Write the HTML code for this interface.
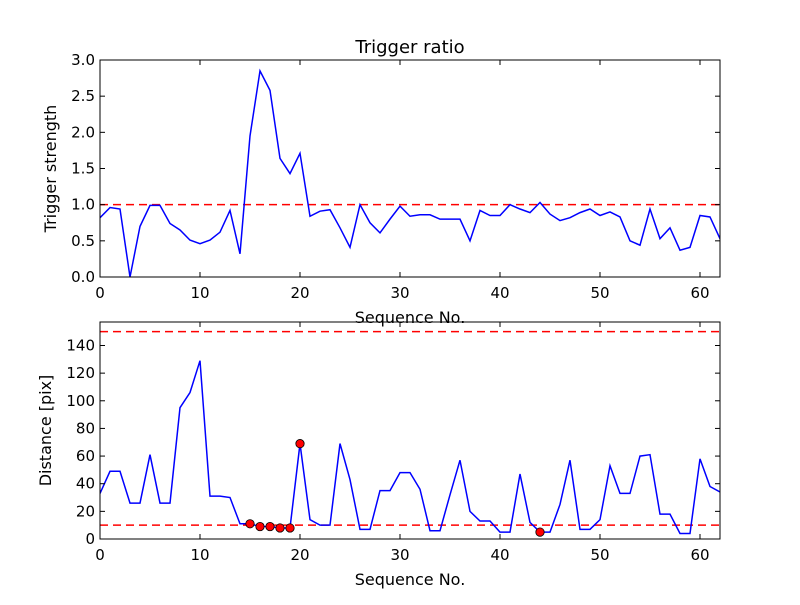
<!DOCTYPE html>
<html><head><meta charset="utf-8"><style>
body{margin:0;background:#fff}
svg{font-family:"DejaVu Sans","Liberation Sans",sans-serif}
</style></head><body>
<svg id="c" width="800" height="600" xmlns="http://www.w3.org/2000/svg">
<rect width="800" height="600" fill="#fff"/>
</svg>
<script>
const xs = Array.from({length:63},(_,i)=>i);
const ratio = [0.82,0.96,0.94,0.0,0.70,0.99,0.99,0.74,0.65,0.51,0.46,0.51,0.62,0.92,0.32,1.95,2.85,2.58,1.64,1.43,1.71,0.84,0.91,0.93,0.68,0.41,1.0,0.75,0.61,0.80,0.98,0.84,0.86,0.86,0.80,0.80,0.80,0.50,0.92,0.85,0.85,1.0,0.94,0.89,1.03,0.87,0.78,0.82,0.89,0.94,0.85,0.90,0.83,0.50,0.44,0.94,0.53,0.68,0.37,0.41,0.85,0.83,0.53];
const dist = [33,49,49,26,26,61,26,26,95,106,129,31,31,30,11,11,9,9,8,8,69,14,10,10,69,43,7,7,35,35,48,48,36,6,6,32,57,20,13,13,5,5,47,12,5,5,25,57,7,7,14,53,33,33,60,61,18,18,4,4,58,38,34];
const flagged = [15,16,17,18,19,20,44];
const xTicks = [0,10,20,30,40,50,60];
const topYTicks = [0,0.5,1.0,1.5,2.0,2.5,3.0];
const botYTicks = [0,20,40,60,80,100,120,140];
const ratioThresh = [1.0];
const distThresh = [10,150];

const svg = document.getElementById('c');
const NS = 'http://www.w3.org/2000/svg';
function el(tag, attrs, parent){const e=document.createElementNS(NS,tag);for(const k in attrs)e.setAttribute(k,attrs[k]);(parent||svg).appendChild(e);return e;}

function panel(name, top, bottom, ymax, yTicks, fmt, data, thresh, ylabel, title){
  const L=100,R=720;
  const X=v=>L+(v-0)/(62-0)*(R-L);
  const Y=v=>bottom-(v/ymax)*(bottom-top);
  const g=el('g',{});
  
  
  const cp=el('clipPath',{id:'cp'+name},g);
  el('rect',{x:L,y:top,width:R-L,height:bottom-top},cp);
  thresh.forEach(t=>{
    const l=el('line',{x1:L,x2:R,y1:Y(t),y2:Y(t),stroke:'#ff0000','stroke-width':1.5,'stroke-dasharray':'8,5'},g);
    
    
  });
  const p=el('polyline',{points:data.map((v,i)=>X(xs[i])+','+Y(v)).join(' '),fill:'none',stroke:'#0000ff','stroke-width':1.5,'clip-path':'url(#cp'+name+')'},g);
  
  
  el('rect',{x:L,y:top,width:R-L,height:bottom-top,fill:'none',stroke:'#000','stroke-width':1},g);
  xTicks.forEach(t=>{
    el('line',{x1:X(t),x2:X(t),y1:bottom,y2:bottom-5,stroke:'#000'},g);
    el('line',{x1:X(t),x2:X(t),y1:top,y2:top+5,stroke:'#000'},g);
    const tx=el('text',{x:X(t),y:bottom+21,'text-anchor':'middle','font-size':15},g);
    tx.textContent=t;
    
    
  });
  yTicks.forEach(t=>{
    el('line',{x1:L,x2:L+5,y1:Y(t),y2:Y(t),stroke:'#000'},g);
    el('line',{x1:R,x2:R-5,y1:Y(t),y2:Y(t),stroke:'#000'},g);
    const tx=el('text',{x:L-5,y:Y(t)+5,'text-anchor':'end','font-size':15},g);
    tx.textContent=fmt(t);
    
    
  });
  const xl=el('text',{x:410,y:bottom+46,'text-anchor':'middle','font-size':16},g);
  xl.textContent='Sequence No.';
  
  
  const cy=(top+bottom)/2;
  const yl=el('text',{x:0,y:0,'text-anchor':'middle','font-size':16,transform:'translate('+(ylabel.x)+','+cy+') rotate(-90)'},g);
  yl.textContent=ylabel.t;
  
  
  if(title){
    const tt=el('text',{x:410,y:top-7,'text-anchor':'middle','font-size':18},g);
    tt.textContent=title;
    
    
  }
  return {X,Y,g};
}

panel('top-panel',60,277,3.0,topYTicks,t=>t.toFixed(1),ratio,ratioThresh,{x:56,t:'Trigger strength'},'Trigger ratio');
const b=panel('bottom-panel',322,539,157,botYTicks,t=>String(t),dist,distThresh,{x:51,t:'Distance [pix]'},null);
flagged.forEach(i=>{
  const c=el('circle',{cx:b.X(xs[i]),cy:b.Y(dist[i]),r:4.2,fill:'#ff0000',stroke:'#000','stroke-width':0.8},b.g);
  
  
});
</script>
</body></html>
